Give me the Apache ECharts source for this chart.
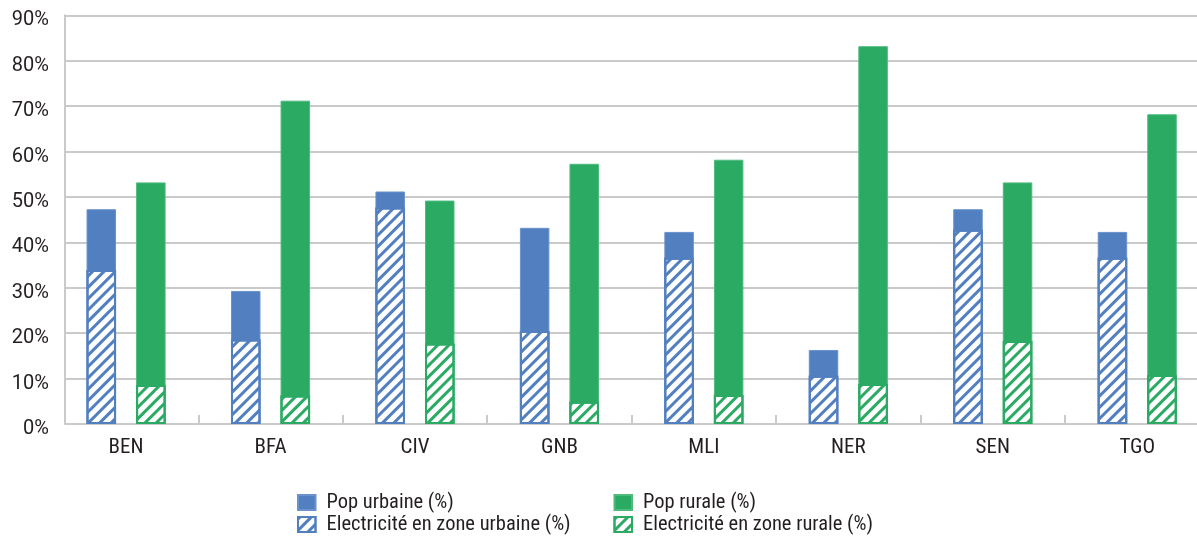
<!DOCTYPE html>
<html>
<head>
<meta charset="utf-8">
<script src="https://cdn.jsdelivr.net/npm/echarts@6/dist/echarts.min.js"></script>
<style>
html,body{margin:0;padding:0;background:#fff;overflow:hidden;}
#chart{width:1197px;height:543px;}
</style>
</head>
<body>
<div id="chart"></div>
<script>
var categories = ['BEN','BFA','CIV','GNB','MLI','NER','SEN','TGO'];
var popUrbaine = [47.3, 29.3, 51.2, 43.2, 42.3, 16.3, 47.3, 42.3];
var popRurale = [53.2, 71.2, 49.2, 57.3, 58.2, 83.2, 53.2, 68.2];
var elecUrbaine = [33.9, 18.6, 47.7, 20.5, 36.6, 10.6, 42.8, 36.6];
var elecRurale = [8.6, 6.3, 17.7, 4.9, 6.4, 8.8, 18.3, 10.8];
var yTicks = [0, 10, 20, 30, 40, 50, 60, 70, 80, 90];

var BLUE = '#527FC0';
var GREEN = '#2BAA64';
var GRIDC = '#CACACA';
var TXT = '#231F20';
var FONT_C = '"Roboto Condensed", "Liberation Sans", sans-serif';
var FONT_N = 'Roboto, "Liberation Sans", sans-serif';

function hatch(c) {
  return {
    color: '#fff',
    borderColor: c,
    borderWidth: 2,
    decal: {
      symbol: 'rect',
      color: c,
      dashArrayX: [1, 0],
      dashArrayY: [2.2, 4.8],
      rotation: -Math.PI / 4,
      symbolSize: 1
    }
  };
}

var legendText = {fontSize: 20.5, color: TXT, fontFamily: FONT_C, lineHeight: 22, padding: [0, 0, 0, 6]};

var chart = echarts.init(document.getElementById('chart'), null, {renderer: 'canvas'});
chart.setOption({
  animation: false,
  backgroundColor: '#fff',
  textStyle: {fontFamily: FONT_C},
  grid: [
    {left: 65, right: 0, top: 15.3, bottom: 119, outerBoundsMode: 'none', containLabel: false},
    {left: 53.85, width: 1155.6, top: 15.3, bottom: 119, outerBoundsMode: 'none', containLabel: false}
  ],
  legend: [
    {
      left: 297, top: 491.5, orient: 'vertical', padding: 0, icon: 'rect',
      itemWidth: 17.5, itemHeight: 15, itemGap: 0, textStyle: legendText,
      data: ['Pop urbaine (%)', 'Electricité en zone urbaine (%)']
    },
    {
      left: 613.5, top: 491.5, orient: 'vertical', padding: 0, icon: 'rect',
      itemWidth: 17.5, itemHeight: 15, itemGap: 0, textStyle: legendText,
      data: ['Pop rurale (%)', 'Electricité en zone rurale (%)']
    }
  ],
  xAxis: [
    {type: 'value', gridIndex: 0, show: false, min: 0, max: 1},
    {
      type: 'category', gridIndex: 1, data: categories,
      axisLine: {show: false},
      axisTick: {show: true, inside: true, length: 9, lineStyle: {color: GRIDC, width: 2},
        interval: function (i) { return i !== 0; }},
      axisLabel: {fontSize: 21, color: TXT, fontFamily: FONT_C, margin: 13},
      splitLine: {show: false}
    },
    {type: 'category', gridIndex: 1, data: categories, show: false}
  ],
  yAxis: [
    {
      type: 'value', gridIndex: 0, min: yTicks[0], max: yTicks[yTicks.length - 1], interval: 10,
      axisLine: {show: true, lineStyle: {color: GRIDC, width: 2}},
      axisTick: {show: false},
      axisLabel: {fontSize: 20, color: TXT, fontFamily: FONT_N, margin: 16, verticalAlign: 'top', lineHeight: 10, formatter: '{value}%'},
      splitLine: {show: true, lineStyle: {color: GRIDC, width: 2}}
    },
    {type: 'value', gridIndex: 1, min: 0, max: 90, show: false, splitLine: {show: false}}
  ],
  series: [
    {name: 'Pop urbaine (%)', type: 'bar', xAxisIndex: 1, yAxisIndex: 1, data: popUrbaine,
      barWidth: 29.5, barGap: '68%', itemStyle: {color: BLUE, borderColor: '#6A92CB', borderWidth: 1}},
    {name: 'Pop rurale (%)', type: 'bar', xAxisIndex: 1, yAxisIndex: 1, data: popRurale,
      barWidth: 29.5, barGap: '68%', itemStyle: {color: GREEN, borderColor: '#4DBA7E', borderWidth: 1}},
    {name: 'Electricité en zone urbaine (%)', type: 'bar', xAxisIndex: 2, yAxisIndex: 1, data: elecUrbaine,
      barWidth: 29.5, barGap: '68%', itemStyle: hatch(BLUE)},
    {name: 'Electricité en zone rurale (%)', type: 'bar', xAxisIndex: 2, yAxisIndex: 1, data: elecRurale,
      barWidth: 29.5, barGap: '68%', itemStyle: hatch(GREEN)}
  ]
});
</script>
</body>
</html>
